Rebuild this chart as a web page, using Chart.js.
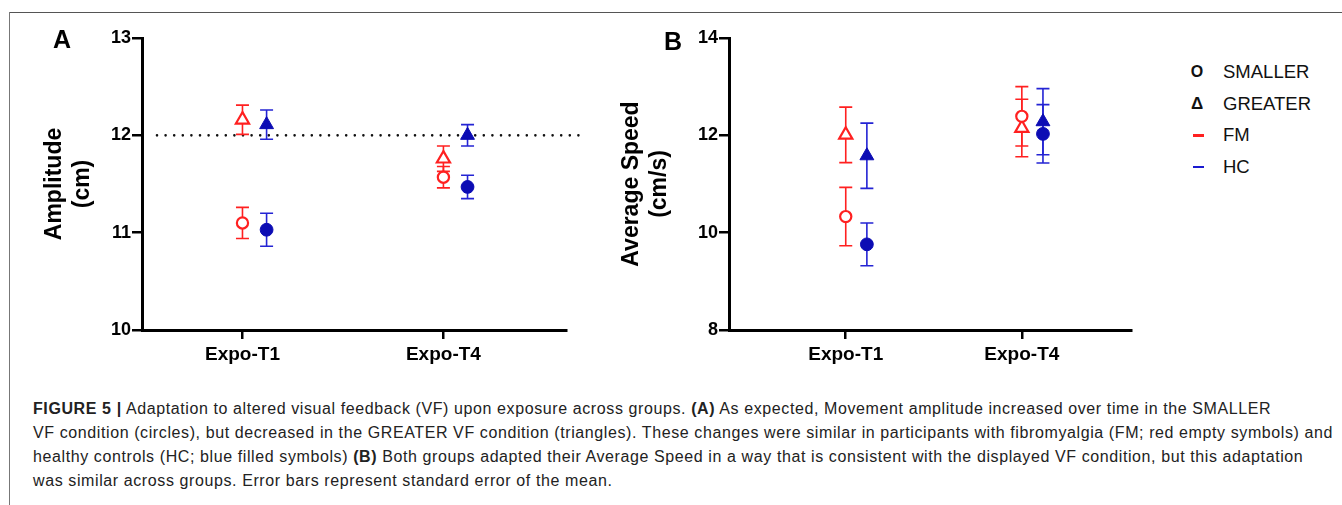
<!DOCTYPE html>
<html>
<head>
<meta charset="utf-8">
<script src="https://cdn.jsdelivr.net/npm/chart.js@4.4.1/dist/chart.umd.min.js"></script>
<style>
  body { margin: 0; background: #fff; font-family: 'Liberation Sans', Arial, sans-serif; }
  #page { position: relative; width: 1342px; height: 505px; overflow: hidden; }
  .frameTop { position: absolute; left: 9px; top: 12px; width: 1333px; height: 1px; background: #555; }
  .frameLeft { position: absolute; left: 9px; top: 12px; width: 1px; height: 493px; background: #777; }
  canvas { position: absolute; top: 0; }
  .panel { position: absolute; font-weight: bold; font-size: 25px; color: #000; line-height: 25px; }
  .legend { position: absolute; left: 1180px; top: 58px; font-size: 18.5px; color: #111; }
  .legend div { position: relative; height: 31.5px; line-height: 28px; padding-left: 43px; }
  .legend .sym { position: absolute; left: 0; width: 34px; text-align: center; font-weight: bold; }
  .legend .dash { position: absolute; left: 13px; top: 13px; width: 11px; height: 2.5px; }
  #caption { position: absolute; left: 33px; top: 397px; font-size: 16px; letter-spacing: 0.6px; line-height: 24px; color: #222; white-space: nowrap; }
</style>
</head>
<body>
<div id="page">
  <div class="frameTop"></div>
  <div class="frameLeft"></div>
  <canvas id="chartA" width="600" height="375" style="left:0"></canvas>
  <canvas id="chartB" width="560" height="375" style="left:600px"></canvas>
  <div class="panel" style="left:53px; top:27px">A</div>
  <div class="panel" style="left:664px; top:29px">B</div>
  <div class="legend">
    <div><span class="sym" style="font-size:16px">O</span>SMALLER</div>
    <div><span class="sym" style="font-size:17px">&Delta;</span>GREATER</div>
    <div><span class="dash" style="background:#ff2020"></span>FM</div>
    <div><span class="dash" style="background:#1a1ad0"></span>HC</div>
  </div>
  <div id="caption">
    <b>FIGURE 5 |</b> Adaptation to altered visual feedback (VF) upon exposure across groups. <b>(A)</b> As expected, Movement amplitude increased over time in the SMALLER<br>
    VF condition (circles), but decreased in the GREATER VF condition (triangles). These changes were similar in participants with fibromyalgia (FM; red empty symbols) and<br>
    healthy controls (HC; blue filled symbols) <b>(B)</b> Both groups adapted their Average Speed in a way that is consistent with the displayed VF condition, but this adaptation<br>
    was similar across groups. Error bars represent standard error of the mean.
  </div>
</div>
<script>
const categories = ['Expo-T1', 'Expo-T4'];

// Panel A - Amplitude (cm), mean and SEM
const ampFmSmaller = [11.10, 11.57];
const ampFmSmallerSe = [0.16, 0.11];
const ampFmGreater = [12.16, 11.76];
const ampFmGreaterSe = [0.15, 0.13];
const ampHcSmaller = [11.03, 11.47];
const ampHcSmallerSe = [0.17, 0.12];
const ampHcGreater = [12.11, 12.00];
const ampHcGreaterSe = [0.15, 0.11];
const ampTicks = [10, 11, 12, 13];
const ampRefLine = 12;

// Panel B - Average Speed (cm/s), mean and SEM
const spdFmSmaller = [10.33, 12.39];
const spdFmSmallerSe = [0.60, 0.61];
const spdFmGreater = [12.01, 12.15];
const spdFmGreaterSe = [0.57, 0.59];
const spdHcSmaller = [9.76, 12.03];
const spdHcSmallerSe = [0.44, 0.60];
const spdHcGreater = [11.58, 12.28];
const spdHcGreaterSe = [0.67, 0.68];
const spdTicks = [8, 10, 12, 14];

const RED = '#ff2020';
const BLUE = '#0c0cb4';
const BLUE_BAR = '#2424d4';
const HC_SHIFT = 0.12;

// error bars drawn under the markers
const errorBars = {
    id: 'errorBars',
    beforeDatasetsDraw(chart) {
        const { ctx, scales: { x, y } } = chart;
        chart.data.datasets.forEach((ds) => {
            if (!ds.errors) return;
            ctx.save();
            ctx.strokeStyle = ds.barColor;
            ctx.lineWidth = 1.6;
            ds.data.forEach((pt, j) => {
                const px = x.getPixelForValue(pt.x);
                const top = y.getPixelForValue(pt.y + ds.errors[j]);
                const bot = y.getPixelForValue(pt.y - ds.errors[j]);
                ctx.beginPath();
                ctx.moveTo(px, top); ctx.lineTo(px, bot);
                ctx.moveTo(px - 6.5, top); ctx.lineTo(px + 6.5, top);
                ctx.moveTo(px - 6.5, bot); ctx.lineTo(px + 6.5, bot);
                ctx.stroke();
            });
            ctx.restore();
        });
    }
};

// dotted reference line (panel A)
const refLine = {
    id: 'refLine',
    beforeDatasetsDraw(chart, args, opts) {
        if (opts.value == null) return;
        const { ctx, chartArea, scales: { y } } = chart;
        const py = y.getPixelForValue(opts.value);
        ctx.save();
        ctx.strokeStyle = '#111';
        ctx.lineWidth = 2.6;
        ctx.lineCap = 'round';
        ctx.setLineDash([0, 8.6]);
        ctx.beginPath();
        ctx.moveTo(chartArea.left + 15, py);
        ctx.lineTo(chartArea.right + 14, py);
        ctx.stroke();
        ctx.restore();
    }
};

function points(values, shift) {
    return values.map((v, i) => ({ x: i + 1 + shift, y: v }));
}

function buildDatasets(fmS, fmSSe, fmG, fmGSe, hcS, hcSSe, hcG, hcGSe) {
    return [
        { label: 'FM SMALLER', data: points(fmS, 0), errors: fmSSe, barColor: RED,
          pointStyle: 'circle', pointRadius: 5.6, borderColor: RED, backgroundColor: '#fff', borderWidth: 2.2 },
        { label: 'FM GREATER', data: points(fmG, 0), errors: fmGSe, barColor: RED,
          pointStyle: 'triangle', pointRadius: 7.6, borderColor: RED, backgroundColor: '#fff', borderWidth: 2.2 },
        { label: 'HC SMALLER', data: points(hcS, HC_SHIFT), errors: hcSSe, barColor: BLUE_BAR,
          pointStyle: 'circle', pointRadius: 6.4, borderColor: BLUE, backgroundColor: BLUE, borderWidth: 1 },
        { label: 'HC GREATER', data: points(hcG, HC_SHIFT), errors: hcGSe, barColor: BLUE_BAR,
          pointStyle: 'triangle', pointRadius: 8, borderColor: BLUE, backgroundColor: BLUE, borderWidth: 1 }
    ];
}

function makeChart(id, cfg) {
    const axisGrid = (len) => ({ display: true, drawOnChartArea: false, drawTicks: true, tickLength: len, color: '#000', lineWidth: 2.5 });
    return new Chart(document.getElementById(id), {
        type: 'scatter',
        data: { datasets: cfg.datasets },
        options: {
            responsive: false,
            animation: false,
            layout: { padding: { top: 38, left: 0, right: cfg.padRight, bottom: 0 } },
            plugins: {
                legend: { display: false },
                tooltip: { enabled: false },
                refLine: { value: cfg.ref }
            },
            scales: {
                x: {
                    type: 'linear',
                    min: cfg.xMin,
                    max: cfg.xMax,
                    afterBuildTicks: (s) => { s.ticks = categories.map((c, i) => ({ value: i + 1 })); },
                    afterFit: (s) => { s.height = 45; },
                    ticks: {
                        callback: (v) => categories[v - 1],
                        color: '#000',
                        padding: 4,
                        maxRotation: 0,
                        font: { family: 'Liberation Sans', size: 19, weight: 'bold' }
                    },
                    grid: axisGrid(9),
                    border: { color: '#000', width: 3 }
                },
                y: {
                    min: cfg.yTicks[0],
                    max: cfg.yTicks[cfg.yTicks.length - 1],
                    afterBuildTicks: (s) => { s.ticks = cfg.yTicks.map((v) => ({ value: v })); },
                    afterFit: (s) => { s.width = cfg.yWidth; },
                    ticks: {
                        color: '#000',
                        padding: 1,
                        font: { family: 'Liberation Sans', size: 18, weight: 'bold' }
                    },
                    grid: axisGrid(10),
                    border: { color: '#000', width: 3 },
                    title: {
                        display: true,
                        text: cfg.yTitle,
                        color: '#000',
                        padding: { top: cfg.titlePad, bottom: 0 },
                        font: { family: 'Liberation Sans', size: 23, weight: 'bold', lineHeight: 1.18 }
                    }
                }
            }
        },
        plugins: [refLine, errorBars]
    });
}

makeChart('chartA', {
    datasets: buildDatasets(ampFmSmaller, ampFmSmallerSe, ampFmGreater, ampFmGreaterSe,
                            ampHcSmaller, ampHcSmallerSe, ampHcGreater, ampHcGreaterSe),
    yTicks: ampTicks,
    yTitle: ['Amplitude', '(cm)'],
    ref: ampRefLine,
    xMin: 0.5, xMax: 2.61,
    yWidth: 142, padRight: 34, titlePad: 41.5
});

makeChart('chartB', {
    datasets: buildDatasets(spdFmSmaller, spdFmSmallerSe, spdFmGreater, spdFmGreaterSe,
                            spdHcSmaller, spdHcSmallerSe, spdHcGreater, spdHcGreaterSe),
    yTicks: spdTicks,
    yTitle: ['Average Speed', '(cm/s)'],
    ref: null,
    xMin: 0.337, xMax: 2.62,
    yWidth: 129, padRight: 29, titlePad: 18.5
});
</script>
</body>
</html>
